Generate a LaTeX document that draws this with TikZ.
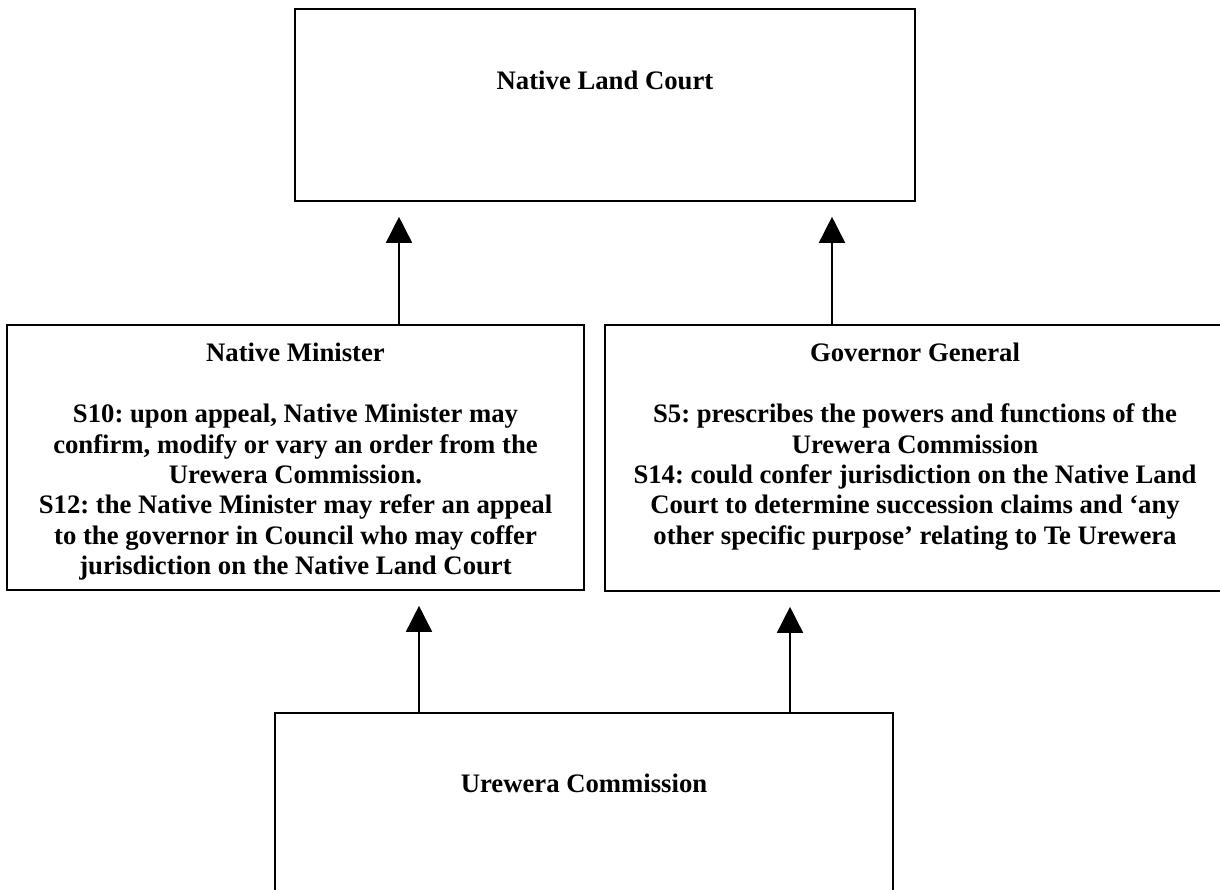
\documentclass[tikz,border=0pt]{standalone}
\usepackage{fontspec}
\setmainfont{Liberation Serif}
\usetikzlibrary{arrows.meta}
\frenchspacing
\begin{document}
\begin{tikzpicture}[x=1pt,y=-1pt,
  boxshape/.style={draw=black,line width=1.6pt,rectangle,inner sep=0pt},
  txt/.style={font=\fontsize{26.7}{30.4}\selectfont\bfseries\frenchspacing,align=center,inner sep=0pt,anchor=north},
  arr/.style={line width=1.6pt,-{Triangle[length=26pt,width=26pt]},shorten >=15pt}]
\useasboundingbox (0,0) rectangle (1220,889);
\clip (0,0) rectangle (1220,889);
% boxes
\node[boxshape,minimum width=620pt,minimum height=192pt] (nlc) at (605,105) {};
\node[boxshape,minimum width=577pt,minimum height=265pt] (nm) at (295.5,457.5) {};
\node[boxshape,minimum width=620pt,minimum height=266pt] (gg) at (915,458) {};
\node[boxshape,minimum width=618pt,minimum height=260pt] (uc) at (584,843) {};
% texts
\node[txt,yshift=-63pt] (nlct) at (nlc.north) {Native Land Court};
\node[txt,yshift=-19pt] (nmt) at (nm.north) {Native Minister\\[30.4pt]
S10: upon appeal, Native Minister may\\
confirm, modify or vary an order from the\\
Urewera Commission.\\
S12: the Native Minister may refer an appeal\\
to the governor in Council who may coffer\\
jurisdiction on the Native Land Court};
\node[txt,yshift=-19pt] (ggt) at (gg.north) {Governor General\\[30.4pt]
S5: prescribes the powers and functions of the\\
Urewera Commission\\
S14: could confer jurisdiction on the Native Land\\
Court to determine succession claims and ‘any\\
other specific purpose’ relating to Te Urewera};
\node[txt,yshift=-62pt] (uct) at (uc.north) {Urewera Commission};
% connector columns
\coordinate (c1) at (399,0);
\coordinate (c2) at (832,0);
\coordinate (c3) at (419,0);
\coordinate (c4) at (790,0);
\draw[arr] (c1 |- nm.north) -- (c1 |- nlc.south);
\draw[arr] (c2 |- gg.north) -- (c2 |- nlc.south);
\draw[arr] (c3 |- uc.north) -- (c3 |- nm.south);
\draw[arr] (c4 |- uc.north) -- (c4 |- gg.south);
\end{tikzpicture}
\end{document}
